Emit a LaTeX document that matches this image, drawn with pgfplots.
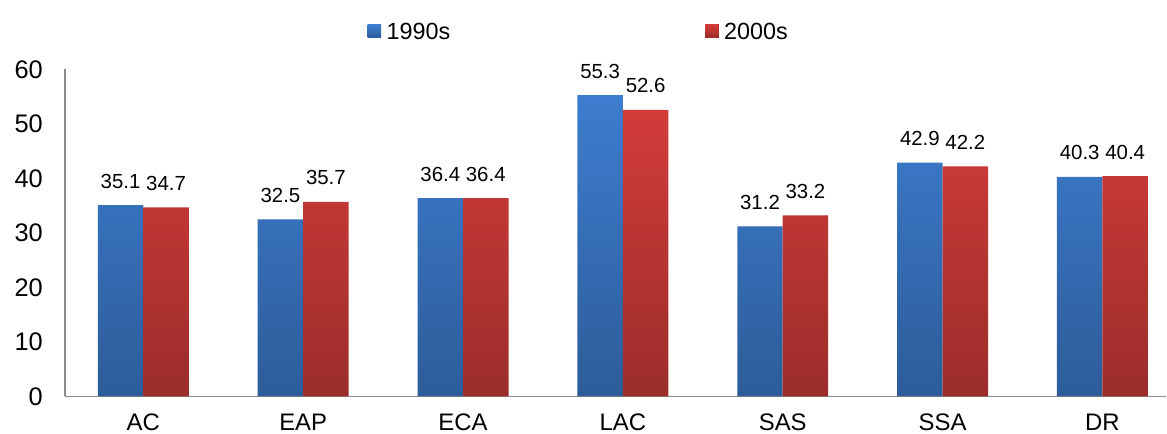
\documentclass[border=0pt]{standalone}
\usepackage{pgfplots}
\pgfplotsset{compat=1.18}
\usepackage{fontspec}
\setmainfont{Liberation Sans}
\definecolor{bluetop}{HTML}{3D7DCF}
\definecolor{bluebot}{HTML}{2D5C99}
\definecolor{redtop}{HTML}{D23C39}
\definecolor{redbot}{HTML}{9B2D2B}
\definecolor{axgray}{HTML}{8C8C8C}
\begin{document}
\begin{tikzpicture}
\begin{axis}[
  name=ax, at={(0,0)}, anchor=south west,
  scale only axis, width=1102bp, height=327bp,
  ybar=0pt, bar width=45.5bp,
  xmin=-0.49, xmax=6.4, ymin=0, ymax=60,
  axis x line*=bottom, axis y line*=left,
  axis line style={draw=axgray, line width=1.2bp},
  xtick={0,...,6}, xticklabels={AC,EAP,ECA,LAC,SAS,SSA,DR},
  ytick={0,10,...,60},
  major tick length=0pt,
  /pgf/number format/assume math mode=true,
  /pgf/number format/fixed, /pgf/number format/precision=1,
  yticklabel style={font=\fontsize{25.5}{29}\selectfont, anchor=east, inner sep=0pt, xshift=-22bp},
  xticklabel style={font=\fontsize{24}{28}\selectfont, anchor=north, inner sep=0pt, yshift=-17.5bp},
  nodes near coords,
  every node near coord/.append style={font=\fontsize{20.5}{24}\selectfont, anchor=south, inner sep=0pt, yshift=16.5bp, black},
  legend style={at={(0.4655,1)}, anchor=center, xshift=1bp, yshift=37bp, draw=none, fill=none,
    legend columns=2, font=\fontsize{23.5}{27}\selectfont,
    /tikz/every even column/.append style={column sep=253bp}},
]
\addplot[draw=none, top color=bluetop, bottom color=bluebot,
  legend image code/.code={\fill[top color=bluetop, bottom color=bluebot] (0bp,-5.5bp) rectangle (13.5bp,8bp); \path (17bp,0bp);}]
  coordinates {(0,35.1) (1,32.5) (2,36.4) (3,55.3) (4,31.2) (5,42.9) (6,40.3)};
\addlegendentry{1990s}
\addplot[draw=none, top color=redtop, bottom color=redbot,
  legend image code/.code={\fill[top color=redtop, bottom color=redbot] (0bp,-5.5bp) rectangle (13.5bp,8bp); \path (17bp,0bp);}]
  coordinates {(0,34.7) (1,35.7) (2,36.4) (3,52.6) (4,33.2) (5,42.2) (6,40.4)};
\addlegendentry{2000s}
\end{axis}
\path[use as bounding box] ([xshift=-65bp,yshift=-37.5bp]ax.south west) rectangle ([yshift=69.5bp]ax.north east);
\end{tikzpicture}
\end{document}
